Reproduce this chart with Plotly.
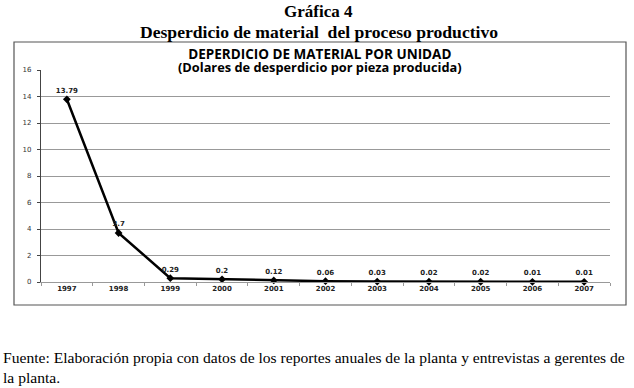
import plotly.graph_objects as go

years = ["1997", "1998", "1999", "2000", "2001", "2002", "2003", "2004", "2005", "2006", "2007"]
values = [13.79, 3.7, 0.29, 0.2, 0.12, 0.06, 0.03, 0.02, 0.02, 0.01, 0.01]
labels = ["13.79", "3.7", "0.29", "0.2", "0.12", "0.06", "0.03", "0.02", "0.02", "0.01", "0.01"]
y_ticks = [0, 2, 4, 6, 8, 10, 12, 14, 16]

W, H = 634, 388
L, R, T, B = 41, 24, 70, 106
pw, ph = W - L - R, H - T - B

def px(x):
    return (x - L) / pw

def py(y):
    return (H - B - y) / ph

fig = go.Figure()
fig.add_trace(go.Scatter(
    x=years, y=values, mode="lines+markers+text",
    text=labels, textposition="top center",
    textfont=dict(family="DejaVu Sans", size=7, color="#222", weight="bold"),
    line=dict(color="black", width=2.5),
    marker=dict(symbol="diamond", size=6, color="black"),
    cliponaxis=False, showlegend=False,
))

def ann(text, x, y, family, size, xanchor="center", yanchor="middle", align="center"):
    return dict(text=text, xref="paper", yref="paper", x=px(x), y=py(y),
                xanchor=xanchor, yanchor=yanchor, align=align, showarrow=False,
                font=dict(family=family, size=size, color="black"))

chart_title = ("<b><span style='font-size:13.5px'>DEPERDICIO DE MATERIAL POR UNIDAD</span><br>"
               "<span style='font-size:12.8px'>(Dolares de desperdicio por pieza producida)</span></b>")

fig.update_layout(
    width=W, height=H,
    margin=dict(l=L, r=R, t=T, b=B),
    paper_bgcolor="white", plot_bgcolor="white",
    xaxis=dict(type="category", range=[-0.5, 10.5], showgrid=False,
               showline=True, linecolor="#999", linewidth=1,
               ticks="outside", tickson="boundaries", ticklen=3, tickcolor="#999",
               tickfont=dict(family="DejaVu Sans", size=7, color="#222", weight="bold")),
    yaxis=dict(range=[0, 16], tickvals=y_ticks, showgrid=True, gridcolor="#999", gridwidth=1,
               showline=True, linecolor="#444", linewidth=1.2,
               ticks="outside", ticklen=3, tickcolor="#444", zeroline=False,
               ticklabelstandoff=4,
               tickfont=dict(family="DejaVu Sans", size=7, color="#333")),
    shapes=[dict(type="rect", xref="paper", yref="paper",
                 x0=px(14), x1=px(626), y0=py(305), y1=py(42),
                 line=dict(color="#555", width=1.2))],
    annotations=[
        ann("<b>Gráfica 4</b>", 318, 12, "Liberation Serif", 17),
        ann("<b>Desperdicio de material  del proceso productivo</b>", 319, 32, "Liberation Serif", 17.6),
        ann(chart_title, 320, 60.5, "Open Sans", 9.8),
        ann("Fuente: Elaboración propia con datos de los reportes anuales de la planta y entrevistas a gerentes de<br>la planta.",
            1, 347, "Liberation Serif", 15.6, xanchor="left", yanchor="top", align="left"),
    ],
)

fig.write_html("out.html", config={"displayModeBar": False},
               post_script="document.body.style.margin='0';")
